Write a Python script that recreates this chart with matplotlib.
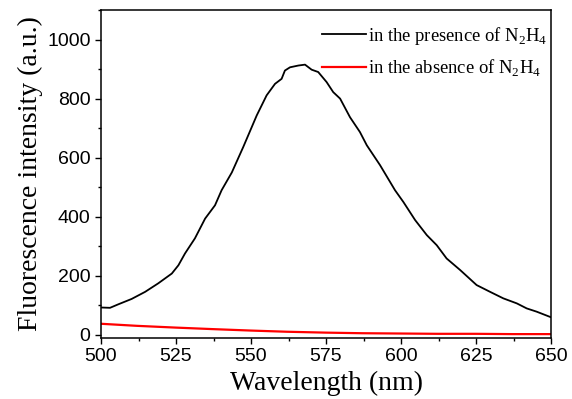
import numpy as np
import matplotlib.pyplot as plt
from matplotlib.ticker import MultipleLocator

plt.rcParams['mathtext.fontset'] = 'custom'
plt.rcParams['mathtext.rm'] = 'Liberation Serif'

# Black curve: emission with N2H4
wl_on = [500.2, 503, 505.8, 510.2, 514.7, 519.1, 523.6, 525.8, 528, 531.3, 534.7,
         538, 540.2, 543.6, 547.4, 551.9, 555.2, 558, 560.2, 561.3, 563, 565.8,
         568, 570.2, 572.4, 575.2, 577.4, 579.7, 583, 586.3, 588.6, 593, 598,
         600.8, 604.7, 608.6, 611.9, 615.2, 619.7, 625.2, 629.7, 634.1, 638.6,
         641.9, 645.2, 650]
int_on = [93, 92, 104, 122, 146, 175, 208, 236, 276, 327, 394,
          439, 490, 550, 636, 743, 811, 850, 867, 895, 906, 912,
          915, 898, 890, 856, 822, 800, 737, 687, 642, 575, 490,
          450, 389, 338, 304, 259, 220, 169, 146, 124, 107,
          90, 79, 60]

# Red curve: without N2H4
wl_off = [500, 512, 525, 537, 550, 562, 575, 587, 600, 612, 625, 637, 650]
int_off = [38, 31, 25, 20, 15, 11, 8, 6, 5, 4, 4, 3, 3]

fig = plt.figure(figsize=(5.72, 3.99), dpi=100)
ax = fig.add_axes([0.1766, 0.153, 0.7867, 0.822])

ax.plot(wl_on, int_on, color='black', lw=1.3, label=r'in the presence of N$_{\mathregular{2}}$H$_{\mathregular{4}}$')
ax.plot(wl_off, int_off, color='red', lw=1.6, label=r'in the absence of N$_{\mathregular{2}}$H$_{\mathregular{4}}$')

ax.set_xlim(500, 650)
ax.set_ylim(-10, 1100)
ax.xaxis.set_major_locator(MultipleLocator(25))
ax.xaxis.set_minor_locator(MultipleLocator(12.5))
ax.yaxis.set_major_locator(MultipleLocator(200))
ax.yaxis.set_minor_locator(MultipleLocator(100))
ax.tick_params(which='both', direction='out', top=False, right=False)
ax.tick_params(which='major', length=4.5, width=1.0, labelsize=14, pad=3)
ax.tick_params(which='minor', length=2.5, width=1.0)
for lbl in ax.get_xticklabels() + ax.get_yticklabels():
    lbl.set_fontfamily('Liberation Sans')
for s in ax.spines.values():
    s.set_linewidth(1.1)

ax.set_xlabel('Wavelength (nm)', fontsize=20, family='Liberation Serif', labelpad=4)
ax.set_ylabel('Fluorescence intensity (a.u.)', fontsize=20, family='Liberation Serif', labelpad=3)

ax.legend(loc='upper right', bbox_to_anchor=(1.0, 0.967), frameon=False,
          prop={'family': 'Liberation Serif', 'size': 13.4},
          handlelength=2.35, handletextpad=0.1, labelspacing=0.58,
          borderaxespad=0.0, borderpad=0.2)

fig.savefig('out.png', dpi=100)
